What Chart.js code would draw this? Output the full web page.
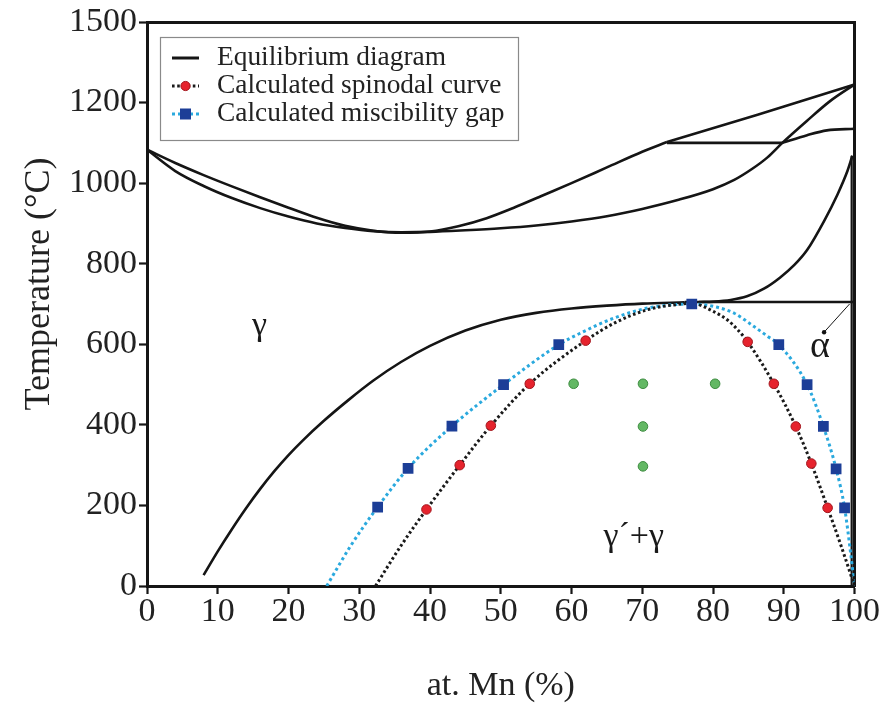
<!DOCTYPE html>
<html><head><meta charset="utf-8">
<script src="https://cdn.jsdelivr.net/npm/chart.js@4.4.0/dist/chart.umd.min.js"></script>
<style>html,body{margin:0;padding:0;background:#fff;}#wrap{width:888px;height:703px;}</style>
</head><body><div id="wrap"><canvas id="c" width="888" height="703"></canvas></div>
<script>
const FONT = "'Liberation Serif','Times New Roman',serif";
// ---- Equilibrium diagram (at.% Mn, °C) ----
const liqMn = [0, 4, 8, 12, 16, 20, 24, 28, 32, 36, 40, 44, 48, 52, 56, 60, 65, 70, 73.5];
const liqT  = [1083, 1050, 1020, 992, 965, 939, 914, 894, 882, 877, 880, 893, 913, 940, 970, 1000, 1039, 1078, 1102];
const liq2Mn = [73.5, 86.3, 100];
const liq2T  = [1102, 1170, 1245];
const solMn = [0, 4, 8, 12, 16, 20, 24, 28, 32, 36, 40, 45, 50, 55, 60, 65, 70, 75, 80, 83, 85.5, 87.7, 89.8, 93.3, 96.5, 100];
const solT  = [1083, 1030, 993, 963, 938, 917, 900, 889, 881, 878, 879, 883, 888, 895, 905, 918, 936, 958, 985, 1008, 1035, 1064, 1100, 1155, 1203, 1245];
const periMn = [73.5, 89.8];
const periT  = [1100, 1100];
const deltaMn = [89.8, 93.3, 96.1, 100];
const deltaT  = [1100, 1119, 1131, 1135];
const gbMn = [8, 10, 12, 14, 16, 18, 20, 22, 25, 28.5, 32, 35.9, 40, 45, 50, 55, 60, 65, 70, 76];
const gbT  = [27, 86, 141, 193, 241, 285, 325, 361, 410, 462, 510, 556, 596, 634, 661, 678, 689, 696, 701, 704];
const eutMn = [76, 100];
const eutT  = [705, 705];
const rcMn = [78, 80.1, 82.5, 84.8, 87.2, 89.5, 91.5, 93.3, 95.7, 97.6, 99.0, 99.7];
const rcT  = [705, 706, 710, 719, 738, 766, 797, 834, 906, 972, 1030, 1068];
const vMn = [99.6, 99.6];
const vT  = [0, 1068];
const vMn2 = [100, 100];
const vT2  = [0, 1245];
const alphaMn = [95.7, 99.3];
const alphaT  = [630, 700];
// ---- Calculated spinodal curve ----
const spinMn = [32.3, 35.9, 39.5, 44.2, 48.6, 54.1, 62.0, 66.1, 70.8, 75.5, 77.0, 80.1, 82.0, 83.5, 84.9, 88.6, 91.7, 93.9, 96.2, 98.1, 100];
const spinT  = [0, 100, 190, 300, 398, 502, 609, 653, 686, 700, 702, 681, 661, 636, 606, 502, 396, 304, 194, 100, 0];
const spinPtMn = [39.5, 44.2, 48.6, 54.1, 62.0, 84.9, 88.6, 91.7, 93.9, 96.2];
const spinPtT  = [190, 300, 398, 502, 609, 606, 502, 396, 304, 194];
// ---- Calculated miscibility gap ----
const gapMn = [25.4, 28.8, 32.6, 36.9, 43.1, 50.4, 58.2, 61.3, 66.0, 70.8, 77.0, 80.1, 83.0, 85.8, 87.7, 89.3, 93.3, 95.6, 97.4, 98.6, 99.5, 100];
const gapT  = [0, 100, 196, 292, 397, 500, 599, 628, 665, 690, 700, 694, 677, 644, 620, 599, 500, 396, 291, 194, 75, 0];
const gapPtMn = [32.6, 36.9, 43.1, 50.4, 58.2, 77.0, 89.3, 93.3, 95.6, 97.4, 98.6];
const gapPtT  = [196, 292, 397, 500, 599, 700, 599, 500, 396, 291, 194];
// ---- Experimental (green) points ----
const grnMn = [60.3, 70.1, 80.3, 70.1, 70.1];
const grnT  = [502, 502, 502, 396, 297];
// ---- Axis ticks ----
const xTicks = [0, 10, 20, 30, 40, 50, 60, 70, 80, 90, 100];
const yTickVals = [0, 200, 400, 600, 800, 1000, 1200, 1400];
const yTickLabels = ['0', '200', '400', '600', '800', '1000', '1200', '1500'];
const legendLabels = ['Equilibrium diagram', 'Calculated spinodal curve', 'Calculated miscibility gap'];
const phaseLabels = [{t: 'γ', x: 15.9, y: 644}, {t: 'α', x: 95.1, y: 594}, {t: 'γ´+γ', x: 68.8, y: 121}];

function pts(xs, ys) { return xs.map((x, i) => ({x: x, y: ys[i]})); }
const EQ = '#151515';
function eq(xs, ys, curved, w) {
  return {type: 'line', data: pts(xs, ys), borderColor: EQ, borderWidth: w || 2.6, pointRadius: 0,
    cubicInterpolationMode: curved ? 'monotone' : 'default', tension: curved ? 0.4 : 0, fill: false, order: 5};
}
const datasets = [
  eq(liqMn, liqT, true), eq(liq2Mn, liq2T, false), eq(solMn, solT, true), eq(periMn, periT, false),
  eq(deltaMn, deltaT, true), eq(gbMn, gbT, true), eq(eutMn, eutT, false), eq(rcMn, rcT, true),
  eq(vMn, vT, false, 2.2), eq(vMn2, vT2, false, 3), eq(alphaMn, alphaT, false, 1),
  {type: 'line', data: pts(gapMn, gapT), borderColor: '#2aa9de', borderWidth: 3, borderDash: [3, 3], pointRadius: 0, tension: 0.4, cubicInterpolationMode: 'monotone', order: 4},
  {type: 'line', data: pts(spinMn, spinT), borderColor: '#1a1a1a', borderWidth: 3, borderDash: [2.6, 2.6], pointRadius: 0, tension: 0.4, cubicInterpolationMode: 'monotone', order: 3},
  {type: 'scatter', data: pts(gapPtMn, gapPtT), pointStyle: 'rect', pointRadius: 7.6, backgroundColor: '#1c3e97', borderColor: '#1c3e97', borderWidth: 0, order: 1},
  {type: 'scatter', data: pts(spinPtMn, spinPtT), pointStyle: 'circle', pointRadius: 4.8, backgroundColor: '#e6232d', borderColor: '#a3161d', borderWidth: 1, order: 1},
  {type: 'scatter', data: pts(grnMn, grnT), pointStyle: 'circle', pointRadius: 4.8, backgroundColor: '#63b864', borderColor: '#3d8b40', borderWidth: 1, order: 1},
  {type: 'scatter', data: pts([alphaMn[0]], [alphaT[0]]), pointStyle: 'circle', pointRadius: 2.2, backgroundColor: '#111', borderWidth: 0, order: 1}
];

const overlay = {
  id: 'overlay',
  afterDraw(chart) {
    const ctx = chart.ctx, xs = chart.scales.x, ys = chart.scales.y;
    ctx.save();
    ctx.fillStyle = '#222';
    ctx.font = '36px ' + FONT;
    ctx.textAlign = 'center'; ctx.textBaseline = 'middle';
    ctx.translate(40, 284); ctx.rotate(-Math.PI / 2);
    ctx.fillText('Temperature (°C)', 0, 0);
    ctx.restore();
    ctx.save();
    ctx.fillStyle = '#1a1a1a';
    ctx.textAlign = 'center'; ctx.textBaseline = 'middle';
    phaseLabels.forEach(l => {
      ctx.font = (l.t === 'α' ? '38px ' : '34px ') + FONT;
      ctx.fillText(l.t, xs.getPixelForValue(l.x), ys.getPixelForValue(l.y));
    });
    ctx.restore();
    ctx.save();
    const bx = 160, by = 37, bw = 358, bh = 103;
    ctx.fillStyle = '#fff'; ctx.fillRect(bx, by, bw, bh);
    ctx.strokeStyle = '#8a8a8a'; ctx.lineWidth = 1.2; ctx.strokeRect(bx + 0.5, by + 0.5, bw, bh);
    const rows = [58, 86, 114];
    const x1 = 172, x2 = 199, xm = 185.5;
    ctx.lineWidth = 3;
    ctx.strokeStyle = EQ; ctx.setLineDash([]);
    ctx.beginPath(); ctx.moveTo(x1, rows[0]); ctx.lineTo(x2, rows[0]); ctx.stroke();
    ctx.strokeStyle = '#1a1a1a'; ctx.setLineDash([2.6, 2.6]);
    ctx.beginPath(); ctx.moveTo(x1, rows[1]); ctx.lineTo(x2, rows[1]); ctx.stroke();
    ctx.setLineDash([]);
    ctx.fillStyle = '#e6232d'; ctx.strokeStyle = '#a3161d'; ctx.lineWidth = 1;
    ctx.beginPath(); ctx.arc(xm, rows[1], 4.6, 0, Math.PI * 2); ctx.fill(); ctx.stroke();
    ctx.lineWidth = 3; ctx.strokeStyle = '#2aa9de'; ctx.setLineDash([3, 3]);
    ctx.beginPath(); ctx.moveTo(x1, rows[2]); ctx.lineTo(x2, rows[2]); ctx.stroke();
    ctx.setLineDash([]);
    ctx.fillStyle = '#1c3e97'; ctx.fillRect(xm - 5.5, rows[2] - 5.5, 11, 11);
    ctx.fillStyle = '#222'; ctx.font = '27.4px ' + FONT;
    ctx.textAlign = 'left'; ctx.textBaseline = 'middle';
    legendLabels.forEach((t, i) => ctx.fillText(t, 217, rows[i]));
    ctx.restore();
  }
};

const axisCommon = {
  grid: {display: true, drawOnChartArea: false, drawTicks: true, tickLength: 8, tickWidth: 2.2, tickColor: '#151515'},
  border: {display: true, width: 3, color: '#151515'}
};

new Chart(document.getElementById('c'), {
  data: {datasets: datasets},
  options: {
    responsive: false, animation: false, devicePixelRatio: 1,
    layout: {padding: {top: 22, right: 33.5, left: 0, bottom: 0}},
    plugins: {legend: {display: false}, tooltip: {enabled: false}},
    scales: {
      x: Object.assign({
        type: 'linear', position: 'bottom', min: 0, max: 100,
        afterBuildTicks: s => { s.ticks = xTicks.map(v => ({value: v})); },
        ticks: {color: '#222', font: {family: FONT, size: 34, lineHeight: 1}, padding: 1, maxRotation: 0, autoSkip: false},
        title: {display: true, text: 'at. Mn (%)', color: '#222', font: {family: FONT, size: 34, lineHeight: 1}, padding: 0},
        afterFit: s => { s.height = 117; }
      }, axisCommon),
      y: Object.assign({
        type: 'linear', position: 'left', min: 0, max: 1400,
        afterBuildTicks: s => { s.ticks = yTickVals.map(v => ({value: v})); },
        ticks: {color: '#222', font: {family: FONT, size: 34, lineHeight: 1}, padding: 2, autoSkip: false,
          callback: (v) => { const i = yTickVals.indexOf(v); return i >= 0 ? yTickLabels[i] : ''; }},
        afterFit: s => { s.width = 147; }
      }, axisCommon),
      x2: {type: 'linear', position: 'top', min: 0, max: 100, ticks: {display: false},
        grid: {display: false, drawTicks: false}, border: {display: true, width: 3, color: '#151515'}},
      y2: {type: 'linear', position: 'right', min: 0, max: 1400, ticks: {display: false},
        grid: {display: false, drawTicks: false}, border: {display: true, width: 3, color: '#151515'}}
    }
  },
  plugins: [overlay]
});
</script></body></html>
